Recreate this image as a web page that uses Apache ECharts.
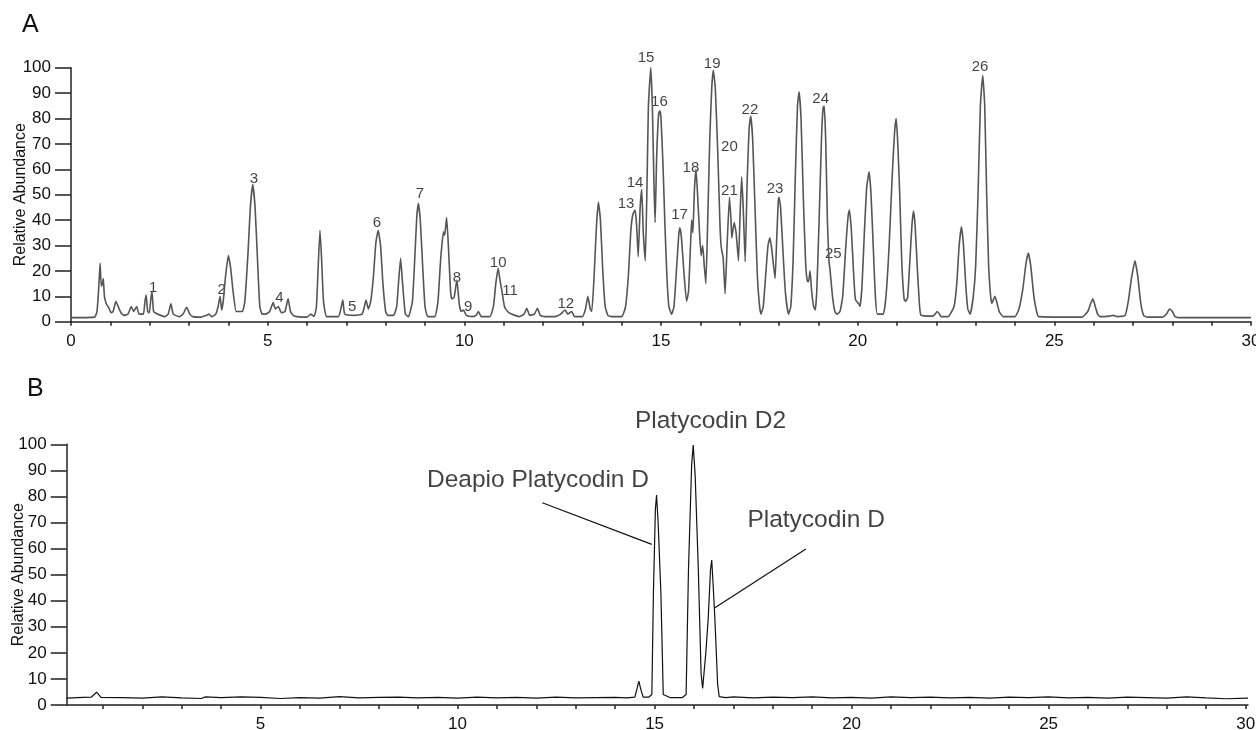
<!DOCTYPE html>
<html>
<head>
<meta charset="utf-8">
<script src="https://cdn.jsdelivr.net/npm/echarts@6/dist/echarts.min.js"></script>
<style>
  html, body { margin: 0; padding: 0; background: #fff; }
  #chart { width: 1256px; height: 730px; }
</style>
</head>
<body>
<div id="chart"></div>
<script>
// panel A: total ion chromatogram, [minutes, relative abundance]
const traceA = [
  [0,1.6],[0.6,1.8],[0.66,4],[0.7,12],[0.74,23],[0.77,14],[0.8,15],[0.82,17],[0.85,10],[0.9,7],
  [0.96,5.5],[1.02,3.5],[1.07,4],[1.14,8],[1.2,6],[1.27,3.5],[1.35,2.5],[1.45,3],[1.53,6],[1.59,4],
  [1.67,6],[1.73,3],[1.84,3],[1.88,8],[1.91,10.5],[1.95,4],[1.99,3.5],[2.03,9],[2.06,12],[2.1,4],
  [2.2,3],[2.38,2],[2.47,3],[2.54,7],[2.6,3],[2.75,2],[2.85,3],[2.94,5.7],[3.02,3],[3.1,2],
  [3.3,1.8],[3.45,2.5],[3.5,3],[3.58,2],[3.68,3],[3.74,6],[3.79,10],[3.83,4.6],[3.87,8],[3.93,18],
  [4.0,26],[4.06,21],[4.12,12],[4.2,4],[4.3,4],[4.36,4],[4.42,8],[4.5,27],[4.56,45],[4.62,54],
  [4.68,45],[4.74,25],[4.8,6],[4.86,3],[4.95,3],[5.05,4],[5.14,7.5],[5.2,5],[5.27,6],[5.35,3.5],
  [5.44,4],[5.52,9],[5.58,4],[5.65,2.5],[5.75,2],[6.0,1.8],[6.1,3],[6.18,2],[6.24,6],[6.28,20],
  [6.33,36],[6.37,25],[6.42,8],[6.5,2],[6.8,2],[6.86,5],[6.91,8.5],[6.96,3],[7.2,2.5],[7.4,3],
  [7.46,6],[7.5,8.5],[7.56,5],[7.62,8],[7.69,18],[7.75,31],[7.81,36],[7.87,30],[7.93,15],[8.0,4],
  [8.05,2.5],[8.2,2.5],[8.28,6],[8.33,16],[8.38,25],[8.43,15],[8.5,3],[8.58,2],[8.68,8],[8.74,25],
  [8.79,41],[8.83,46.6],[8.88,40],[8.94,22],[9.0,6],[9.07,2],[9.25,2],[9.33,8],[9.4,25],[9.47,35.4],
  [9.5,34],[9.55,41],[9.6,28],[9.65,12],[9.68,9],[9.74,9.5],[9.81,16.4],[9.87,7],[9.92,4],[9.98,4.6],
  [10.05,2.5],[10.2,2],[10.3,2.5],[10.36,4],[10.43,2],[10.65,2],[10.74,6],[10.8,15],[10.86,21],[10.91,16],
  [10.95,12.5],[11.02,6],[11.1,4],[11.2,3],[11.4,2],[11.52,3],[11.59,5.3],[11.66,2.5],[11.78,3],[11.86,5.3],
  [11.93,2.5],[12.05,2],[12.3,2],[12.45,3],[12.56,4.6],[12.63,3],[12.73,4],[12.8,2],[13.0,2],[13.08,5],
  [13.14,10],[13.2,5],[13.24,4],[13.3,18],[13.36,38],[13.41,47],[13.46,40],[13.52,20],[13.58,6],[13.65,2.5],
  [13.75,2],[14.0,2],[14.04,3],[14.1,6],[14.17,18],[14.23,35],[14.28,42],[14.34,44],[14.38,38],[14.42,25.6],
  [14.47,45],[14.51,52],[14.55,35],[14.6,24],[14.64,50],[14.68,85],[14.74,100],[14.78,85],[14.82,55],[14.85,39],
  [14.89,65],[14.94,82],[14.97,83],[15.0,80],[15.05,62],[15.1,38],[15.15,18],[15.2,6],[15.27,3],[15.33,6],
  [15.4,22],[15.45,34],[15.48,37],[15.52,33],[15.58,20],[15.65,8],[15.7,12],[15.75,30],[15.78,40],[15.81,35],
  [15.85,52],[15.89,60],[15.93,50],[15.98,35],[16.02,26],[16.06,30],[16.1,22],[16.14,15],[16.18,35],[16.24,72],
  [16.29,92],[16.33,99],[16.38,92],[16.44,68],[16.5,38],[16.53,29.5],[16.58,25],[16.63,11],[16.68,30],[16.74,49],
  [16.78,40],[16.8,33],[16.86,39],[16.91,35],[16.97,24],[17.01,42],[17.05,57],[17.09,45],[17.14,23.6],[17.19,55],
  [17.24,76],[17.28,81],[17.33,72],[17.39,45],[17.45,18],[17.5,7],[17.54,3],[17.6,6],[17.66,18],[17.72,30],
  [17.77,33],[17.82,28],[17.9,17],[17.94,32],[17.98,47],[18.0,49],[18.04,45],[18.1,28],[18.16,12],[18.24,3],
  [18.3,6],[18.36,25],[18.42,60],[18.47,85],[18.51,90.5],[18.56,80],[18.62,48],[18.68,22],[18.72,16],[18.75,15.7],
  [18.79,20],[18.83,12],[18.88,6],[18.92,4.6],[18.96,12],[19.02,40],[19.08,72],[19.12,84],[19.15,85],[19.19,70],
  [19.23,40],[19.27,24],[19.3,20],[19.36,10],[19.42,4],[19.47,3],[19.55,4],[19.62,10],[19.7,30],[19.76,42],
  [19.79,44],[19.84,36],[19.9,18],[19.94,9],[19.97,8],[20.03,7],[20.06,6],[20.11,14],[20.17,35],[20.23,53],
  [20.29,59],[20.34,50],[20.4,28],[20.45,10],[20.5,3],[20.65,3],[20.72,10],[20.8,30],[20.88,58],[20.94,75],
  [20.98,80],[21.02,70],[21.07,50],[21.12,24],[21.18,9],[21.22,8],[21.27,9.5],[21.32,22],[21.38,38],[21.42,43.6],
  [21.46,38],[21.52,20],[21.57,7],[21.61,2.6],[21.9,2.2],[21.97,3],[22.02,4],[22.08,3],[22.12,2],[22.3,2],
  [22.45,6],[22.52,15],[22.58,30],[22.64,37.4],[22.69,30],[22.75,14],[22.8,5],[22.86,3],[22.94,10],[23.0,22],
  [23.06,50],[23.12,85],[23.18,97],[23.23,85],[23.28,50],[23.33,22],[23.38,10],[23.41,7.2],[23.49,10],[23.55,7],
  [23.6,4],[23.7,2],[24.0,2],[24.1,5],[24.2,13],[24.28,23],[24.34,27],[24.4,22],[24.48,10],[24.55,4],
  [24.6,2],[25.7,1.8],[25.85,4],[25.92,7],[25.98,9],[26.04,6],[26.1,3],[26.16,2],[26.4,2.2],[26.5,2.5],
  [26.6,2],[26.8,2.5],[26.88,8],[26.96,17],[27.05,24],[27.12,18],[27.2,7],[27.27,2.5],[27.35,1.8],[27.75,1.8],
  [27.85,3],[27.93,5],[28.0,4],[28.07,2],[28.2,1.6],[30,1.6]
];

// panel B: extracted standards
const traceB = [
  [0.08,2.6],[0.5,2.9],[0.7,3.0],[0.84,4.9],[0.95,2.9],[1.5,2.8],[2,2.6],[2.5,3.1],[3,2.7],[3.5,2.5],
  [3.6,3.1],[4,2.8],[4.5,3.1],[5,2.9],[5.5,2.5],[6,2.8],[6.5,2.6],[7,3.2],[7.5,2.7],[8,2.9],
  [8.5,3.0],[9,2.7],[9.5,2.9],[10,2.6],[10.5,3.0],[11,2.7],[11.5,2.9],[12,2.6],[12.5,3.0],[13,2.7],
  [13.5,2.8],[14,2.9],[14.3,2.7],[14.5,3.0],[14.55,6],[14.6,9.2],[14.65,6],[14.71,3.0],[14.85,3.0],[14.93,4],
  [14.97,43],[15.02,75],[15.05,80.5],[15.09,70],[15.16,43],[15.22,4],[15.4,2.8],[15.7,2.8],[15.8,4],[15.86,52],
  [15.94,92],[15.98,99.7],[16.03,88],[16.11,52],[16.18,12],[16.22,6.4],[16.3,20],[16.36,33],[16.42,52],[16.45,55.6],
  [16.49,45],[16.53,33],[16.6,8],[16.64,3.2],[16.8,2.8],[17,3.1],[17.5,2.7],[18,3.0],[18.5,2.8],[19,3.1],
  [19.5,2.7],[20,2.9],[20.5,2.6],[21,3.1],[21.5,2.8],[22,3.0],[22.5,2.7],[23,2.9],[23.5,2.6],[24,3.0],
  [24.5,2.8],[25,3.1],[25.5,2.7],[26,2.9],[26.5,2.6],[27,3.0],[27.5,2.8],[28,2.6],[28.5,3.1],[29,2.7],
  [29.5,2.4],[30.06,2.6]
];

const peakNumbers = ['1','2','3','4','5','6','7','8','9','10','11','12','13',
  '14','15','16','17','18','19','20','21','22','23','24','25','26'];
const peakNumberAt = [
  [2.09,13.2],[3.83,12.5],[4.65,56.2],[5.3,9.4],[7.15,5.9],[7.78,39],[8.87,50.5],[9.81,17.1],[10.1,5.9],
  [10.86,23.2],[11.16,12.2],[12.58,7.2],[14.11,46.2],[14.34,54.5],[14.62,103.7],[14.96,86.4],[15.47,42],
  [15.76,60.4],[16.3,101.7],[16.74,68.9],[16.74,51.6],[17.26,83.3],[17.9,52.4],[19.06,87.7],[19.38,26.7],[23.11,100.2]
];

const compoundNames = ['Deapio Platycodin D', 'Platycodin D2', 'Platycodin D'];
const compoundAt = [[12.04,86.3],[16.42,108.7],[19.1,71]];
const leaderDeapio = [[12.15,77.6],[14.93,61.6]];
const leaderPlatyD = [[18.84,59.8],[16.53,37.3]];

const xLabelsA = [0,5,10,15,20,25,30];
const xLabelsB = [5,10,15,20,25,30];
const minuteTicks = [0,1,2,3,4,5,6,7,8,9,10,11,12,13,14,15,16,17,18,19,20,21,22,23,24,25,26,27,28,29,30];

const font = 'Liberation Sans, Arial, sans-serif';
const axisColor = '#222';
const textColor = '#111';

function xAxisFor(gridIndex, min, max, labels) {
  return {
    type: 'value', gridIndex, min, max,
    axisLine: { lineStyle: { color: axisColor, width: 1.5 } },
    axisTick: { length: 4, customValues: minuteTicks.filter(v => v >= min && v <= max), lineStyle: { color: axisColor, width: 1.5 } },
    axisLabel: { customValues: labels, margin: 11, fontFamily: font, fontSize: 17, color: textColor },
    splitLine: { show: false }
  };
}
function yAxisFor(gridIndex, gap) {
  return {
    type: 'value', gridIndex, min: 0, max: 100, interval: 10,
    name: 'Relative Abundance', nameLocation: 'middle', nameGap: gap, nameMoveOverlap: false,
    nameTextStyle: { fontFamily: font, fontSize: 16, color: textColor },
    axisLine: { show: true, lineStyle: { color: axisColor, width: 1.5 } },
    axisTick: { show: true, length: 16, lineStyle: { color: axisColor, width: 1.5 } },
    axisLabel: { margin: 20, fontFamily: font, fontSize: 17, color: textColor },
    splitLine: { show: false }
  };
}

const chart = echarts.init(document.getElementById('chart'));
chart.setOption({
  animation: false,
  backgroundColor: '#fff',
  title: [
    { text: 'A', left: 17, top: 8, textStyle: { fontFamily: font, fontSize: 25, fontWeight: 'normal', color: textColor } },
    { text: 'B', left: 22, top: 372, textStyle: { fontFamily: font, fontSize: 25, fontWeight: 'normal', color: textColor } }
  ],
  grid: [
    { left: 71, right: 5, top: 67.7, height: 254, outerBoundsMode: 'none', containLabel: false },
    { left: 66.7, right: 8, top: 444.3, height: 260.7, outerBoundsMode: 'none', containLabel: false }
  ],
  xAxis: [
    xAxisFor(0, 0, 30, xLabelsA),
    xAxisFor(1, 0.08, 30.06, xLabelsB)
  ],
  yAxis: [yAxisFor(0, 42), yAxisFor(1, 40)],
  series: [
    {
      type: 'line', xAxisIndex: 0, yAxisIndex: 0, data: traceA,
      symbol: 'none', smooth: 0.15, lineStyle: { color: '#555', width: 1.6 }
    },
    {
      type: 'scatter', xAxisIndex: 0, yAxisIndex: 0, clip: false, symbolSize: 1,
      itemStyle: { color: 'transparent' },
      data: peakNumberAt.map((p, i) => ({ value: p, name: peakNumbers[i] })),
      label: { show: true, position: 'inside', formatter: '{b}', fontFamily: font, fontSize: 15, color: '#111' }
    },
    {
      type: 'line', xAxisIndex: 1, yAxisIndex: 1, data: traceB,
      symbol: 'none', lineStyle: { color: '#111', width: 1.2 }
    },
    {
      type: 'scatter', xAxisIndex: 1, yAxisIndex: 1, clip: false, symbolSize: 1,
      itemStyle: { color: 'transparent' },
      data: compoundAt.map((p, i) => ({ value: p, name: compoundNames[i] })),
      label: { show: true, position: 'inside', formatter: '{b}', fontFamily: font, fontSize: 24.5, color: '#111' }
    },
    {
      type: 'line', xAxisIndex: 1, yAxisIndex: 1, data: leaderDeapio,
      symbol: 'none', lineStyle: { color: '#111', width: 1.2 }
    },
    {
      type: 'line', xAxisIndex: 1, yAxisIndex: 1, data: leaderPlatyD,
      symbol: 'none', lineStyle: { color: '#111', width: 1.2 }
    }
  ]
});
</script>
</body>
</html>
